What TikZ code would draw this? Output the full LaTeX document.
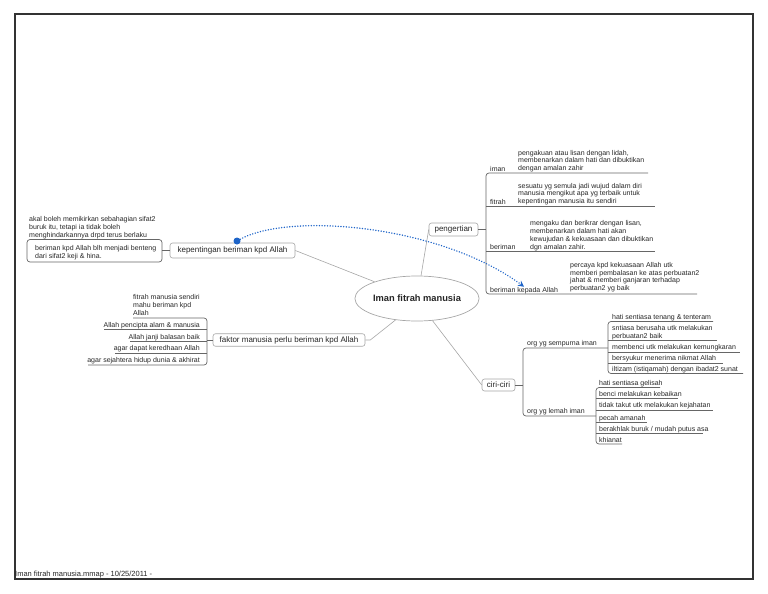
\documentclass[tikz,border=0pt]{standalone}
\usepackage{fontspec}
\setmainfont{Liberation Sans}
\usetikzlibrary{arrows.meta,shapes.geometric}
\definecolor{linkblue}{RGB}{30,100,200}
\begin{document}
\begin{tikzpicture}[x=1pt,y=-1pt,
  leaf/.style={inner sep=0pt, font=\fontsize{7}{7.7}\selectfont, align=left, text=black!85},
  leafl/.style={leaf, anchor=base west},
  leafr/.style={leaf, anchor=base east, align=right},
  branch/.style={draw=black!35, rounded corners=2.5pt, line width=0.6pt, fill=white, font=\fontsize{8}{9.6}\selectfont, inner sep=0pt, text=black!85},
  ul/.style={draw=black!60, line width=0.7pt},
  conn/.style={draw=black!35, line width=0.6pt},
]
\useasboundingbox (0,0) rectangle (768,594);
\draw[line width=1.2pt, black!80] (15,14) rectangle (753,579);

% central topic
\node[ellipse, draw=black!35, line width=0.7pt, minimum width=118pt, minimum height=45pt, inner sep=0pt,
      font=\fontsize{9.3}{11}\selectfont\bfseries, text=black!85] (main) at (417,298.5) {Iman fitrah manusia};

% ---------- pengertian ----------
\node[branch, minimum width=49pt, minimum height=13pt] (peng) at (453.5,229.5) {pengertian};
\draw[conn] (main.80) -- (peng.west);
\draw[ul] (peng.east) -- (486,229.5);
\draw[ul, rounded corners=3pt] (648,173) -- (486,173) -- (486,294) -- (697,294);
\draw[ul] (486,206.5) -- (655,206.5);
\draw[ul] (486,251.5) -- (655,251.5);
\node[leafl] (iman) at (490,171) {iman};
\node[leafl] (fitrah) at (490,204.5) {fitrah};
\node[leafl] (ber) at (490,249.5) {beriman};
\node[leafl] (bka) at (490,292) {beriman kepada Allah};
\node[leafl] (imand) at (518,170.5) {pengakuan atau lisan dengan lidah,\\membenarkan dalam hati dan dibuktikan\\dengan amalan zahir};
\node[leafl] (fitrahd) at (518,203.5) {sesuatu yg semula jadi wujud dalam diri\\manusia mengikut apa yg terbaik untuk\\kepentingan manusia itu sendiri};
\node[leafl] (berd) at (530,249) {mengaku dan berikrar dengan lisan,\\membenarkan dalam hati akan\\kewujudan \& kekuasaan dan dibuktikan\\dgn amalan zahir.};
\node[leafl] (bkad) at (570,290.5) {percaya kpd kekuasaan Allah utk\\memberi pembalasan ke atas perbuatan2\\jahat \& memberi ganjaran terhadap\\perbuatan2 yg baik};

% ---------- kepentingan ----------
\node[branch, minimum width=125pt, minimum height=15pt] (kep) at (232.5,250.5) {kepentingan beriman kpd Allah};
\draw[conn] (kep.east) -- (main);
\draw[ul] (kep.west) -- (162,250.5);
\draw[ul, rounded corners=3pt] (27,239.5) rectangle (162,262);
\node[leafl] (k1) at (29,237) {akal boleh memikirkan sebahagian sifat2\\buruk itu, tetapi ia tidak boleh\\menghindarkannya drpd terus berlaku};
\node[leafl] (k2) at (35,258.5) {beriman kpd Allah blh menjadi benteng\\dari sifat2 keji \& hina.};

% ---------- faktor ----------
\node[branch, minimum width=152pt, minimum height=12.5pt] (fak) at (289,340) {faktor manusia perlu beriman kpd Allah};
\draw[conn] (fak.east) -- ++(5,0) -- (main.225);
\draw[ul] (fak.west) -- (207,340);
\draw[ul, rounded corners=3pt] (133,318) -- (207,318) -- (207,365) -- (88,365);
\draw[ul] (104,329.5) -- (207,329.5);
\draw[ul] (130,341.5) -- (207,341.5);
\draw[ul] (115,353) -- (207,353);
\node[leafl] (f1) at (133,315) {fitrah manusia sendiri\\mahu beriman kpd\\Allah};
\node[leafr] (f2) at (200,327) {Allah pencipta alam \& manusia};
\node[leafr] (f3) at (200,339) {Allah janji balasan baik};
\node[leafr] (f4) at (200,350.5) {agar dapat keredhaan Allah};
\node[leafr] (f5) at (200,362.5) {agar sejahtera hidup dunia \& akhirat};

% ---------- ciri-ciri ----------
\node[branch, minimum width=33pt, minimum height=12pt] (cir) at (498.5,385) {ciri-ciri};
\draw[conn] (main.305) -- (cir.west);
\draw[ul] (cir.east) -- (523,385);
\draw[ul, rounded corners=3pt] (608,348) -- (523,348) -- (523,416) -- (596,416);
\node[leafl] (c1) at (527,345.5) {org yg sempurna iman};
\node[leafl] (c2) at (527,413.5) {org yg lemah iman};

\draw[ul, rounded corners=3pt] (713,321.5) -- (608,321.5) -- (608,373.5) -- (743,373.5);
\draw[ul] (608,340.5) -- (717,340.5);
\draw[ul] (608,352) -- (740,352);
\draw[ul] (608,363) -- (723,363);
\node[leafl] (s1) at (612,319) {hati sentiasa tenang \& tenteram};
\node[leafl] (s2) at (612,338) {sntiasa berusaha utk melakukan\\perbuatan2 baik};
\node[leafl] (s3) at (612,349.5) {membenci utk melakukan kemungkaran};
\node[leafl] (s4) at (612,360.5) {bersyukur menerima nikmat Allah};
\node[leafl] (s5) at (612,371) {iltizam (istiqamah) dengan ibadat2 sunat};

\draw[ul, rounded corners=3pt] (660,387.5) -- (596,387.5) -- (596,444) -- (622,444);
\draw[ul] (596,398.5) -- (678,398.5);
\draw[ul] (596,410) -- (713,410);
\draw[ul] (596,422) -- (647,422);
\draw[ul] (596,433.5) -- (703,433.5);
\node[leafl] (l1) at (599,385.5) {hati sentiasa gelisah};
\node[leafl] (l2) at (599,396.5) {benci melakukan kebaikan};
\node[leafl] (l3) at (599,407.5) {tidak takut utk melakukan kejahatan};
\node[leafl] (l4) at (599,420) {pecah amanah};
\node[leafl] (l5) at (599,431) {berakhlak buruk / mudah putus asa};
\node[leafl] (l6) at (599,442) {khianat};

% ---------- relationship ----------
\node[circle, fill=linkblue, inner sep=0pt, minimum size=7pt] (dot) at (237,241) {};
\draw[linkblue, line width=1.5pt, dash pattern=on 0.1pt off 2.6pt, line cap=round,
      -{Stealth[length=6pt,width=6pt]}] (dot) .. controls (290,212) and (440,225) .. (bka.north);

% footer
\node[leaf, anchor=base west, font=\fontsize{7.5}{9}\selectfont] (foot) at (15,576) {Iman fitrah manusia.mmap - 10/25/2011 -};
\end{tikzpicture}
\end{document}
